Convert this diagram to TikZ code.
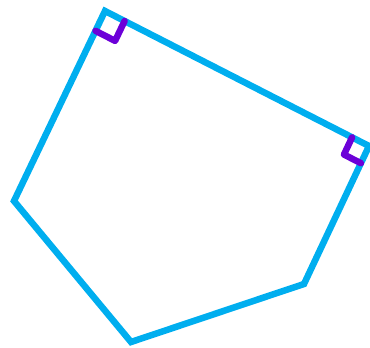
\documentclass[tikz,border=0pt]{standalone}
\usetikzlibrary{calc}
\definecolor{edgeblue}{RGB}{0,174,239}
\definecolor{anglepurple}{RGB}{108,0,216}
\begin{document}
\begin{tikzpicture}[x=1pt,y=-1pt]
  \useasboundingbox (0,0) rectangle (370,348);
  \clip (0,0) rectangle (370,348);
  \coordinate (T) at (105,11);
  \coordinate (R) at (369,146);
  \coordinate (BR) at (304,284);
  \coordinate (B) at (131,342);
  \coordinate (L) at (14,201);
  \draw[edgeblue, line width=6.5pt] (T) -- (R) -- (BR) -- (B) -- (L) -- cycle;
  % right angle marks
  \coordinate (t1) at ($(T)!22pt!(L)$);
  \coordinate (t2) at ($(T)!22pt!(R)$);
  \draw[anglepurple, line width=6.5pt, line cap=round, line join=round] (t1) -- ($(t1)+(t2)-(T)$) -- (t2);
  \coordinate (r1) at ($(R)!19pt!(T)$);
  \coordinate (r2) at ($(R)!19pt!(BR)$);
  \draw[anglepurple, line width=6.5pt, line cap=round, line join=round] (r1) -- ($(r1)+(r2)-(R)$) -- (r2);
\end{tikzpicture}
\end{document}
